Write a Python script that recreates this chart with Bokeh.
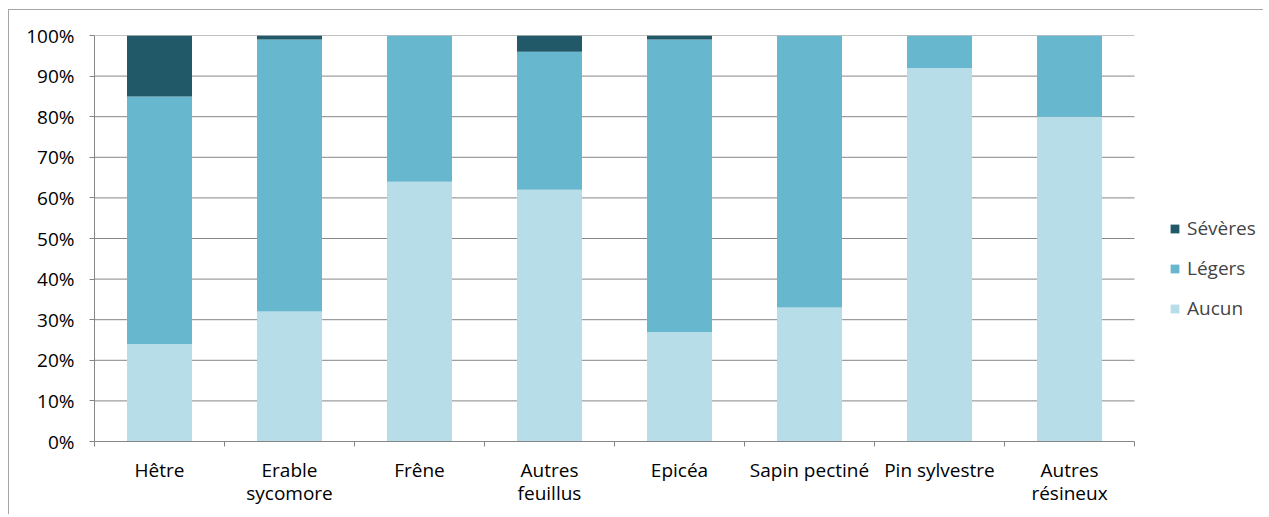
from bokeh.plotting import figure
from bokeh.models import (ColumnDataSource, FixedTicker, NumeralTickFormatter, Legend,
                          LegendItem, Range1d)
from bokeh.embed import file_html
from bokeh.resources import INLINE

categories = ["Hêtre", "Erable sycomore", "Frêne", "Autres feuillus", "Epicéa",
              "Sapin pectiné", "Pin sylvestre", "Autres résineux"]
tick_labels = ["Hêtre", "Erable\nsycomore", "Frêne", "Autres\nfeuillus", "Epicéa",
               "Sapin pectiné", "Pin sylvestre", "Autres\nrésineux"]
aucun = [24, 32, 64, 62, 27, 33, 92, 80]
legers = [61, 67, 36, 34, 72, 67, 8, 20]
severes = [15, 1, 0, 4, 1, 0, 0, 0]
series = ["Aucun", "Légers", "Sévères"]
colors = ["#b7dde8", "#67b8cf", "#215968"]
y_ticks = [i / 10 for i in range(11)]

FONT = "Open Sans"
FS = "19px"
GRID = "#868686"
n = len(categories)
xs = [i + 0.5 for i in range(n)]
data = dict(x=xs, Aucun=[v / 100 for v in aucun], Légers=[v / 100 for v in legers],
            Sévères=[v / 100 for v in severes])
src = ColumnDataSource(data)

# plot frame extends into the legend area on the right (1 extra category slot)
p = figure(width=1255, height=505, output_backend="svg", toolbar_location=None,
           x_range=Range1d(0, n + 1), y_range=Range1d(0, 1),
           min_border_left=85, min_border_top=25, min_border_right=0, min_border_bottom=74)
p.styles = {"border-left": "1px solid #a6a6a6", "border-top": "1px solid #a6a6a6",
            "margin-left": "8px", "margin-top": "9px"}
p.outline_line_color = None

# horizontal gridlines limited to the category area
p.segment(x0=[0] * len(y_ticks), x1=[n] * len(y_ticks), y0=y_ticks, y1=y_ticks,
          line_color=GRID, line_width=1)

renderers = p.vbar_stack(series, x="x", width=0.5, source=src, color=colors, line_color=None)

# y axis
p.yaxis.ticker = FixedTicker(ticks=y_ticks)
p.yaxis.formatter = NumeralTickFormatter(format="0%")
p.yaxis.axis_line_color = GRID
p.yaxis.major_tick_line_color = GRID
p.yaxis.major_tick_out = 5
p.yaxis.major_tick_in = 0
p.yaxis.minor_tick_line_color = None
p.yaxis.major_label_text_font = FONT
p.yaxis.major_label_text_font_size = FS
p.yaxis.major_label_text_color = "black"
p.yaxis.major_label_standoff = 15

# x axis
p.xaxis.bounds = (0, n)
p.xaxis.ticker = FixedTicker(ticks=xs, minor_ticks=list(range(n + 1)))
p.xaxis.major_label_overrides = {x: lab for x, lab in zip(xs, tick_labels)}
p.xaxis.major_tick_line_color = None
p.xaxis.minor_tick_line_color = GRID
p.xaxis.minor_tick_out = 5
p.xaxis.minor_tick_in = 0
p.xaxis.axis_line_color = GRID
p.xaxis.major_label_text_font = FONT
p.xaxis.major_label_text_font_size = FS
p.xaxis.major_label_text_color = "black"
p.xaxis.major_label_text_line_height = 0.92
p.xaxis.major_label_standoff = 9

p.xgrid.grid_line_color = None
p.ygrid.grid_line_color = None

items = [LegendItem(label=s, renderers=[r]) for s, r in zip(series, renderers)][::-1]
legend = Legend(items=items, location=(1075, 120), border_line_color=None,
                background_fill_alpha=0,
                label_text_font=FONT, label_text_font_size=FS, label_height=23,
                glyph_width=11, glyph_height=11, spacing=14, label_standoff=7,
                padding=0, margin=0)
p.add_layout(legend, "center")

open("out.html", "w").write(file_html(p, INLINE))
